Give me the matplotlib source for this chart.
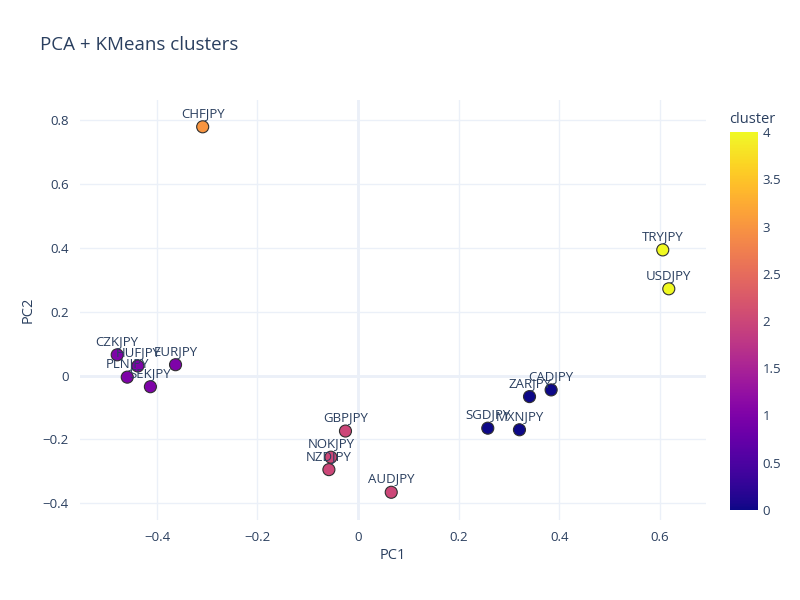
import matplotlib
matplotlib.use("Agg")
import matplotlib.pyplot as plt
from matplotlib.ticker import FuncFormatter

pairs = ["CHFJPY", "TRYJPY", "USDJPY", "CZKJPY", "HUFJPY", "EURJPY", "PLNJPY", "SEKJPY",
         "GBPJPY", "NOKJPY", "NZDJPY", "AUDJPY", "SGDJPY", "MXNJPY", "ZARJPY", "CADJPY"]
pc1 = [-0.309, 0.606, 0.618, -0.479, -0.438, -0.363, -0.459, -0.413,
       -0.025, -0.054, -0.058, 0.066, 0.258, 0.321, 0.341, 0.384]
pc2 = [0.780, 0.394, 0.272, 0.065, 0.030, 0.034, -0.005, -0.035,
       -0.174, -0.256, -0.295, -0.366, -0.165, -0.170, -0.066, -0.045]
cluster = [3, 4, 4, 1, 1, 1, 1, 1, 2, 2, 2, 2, 0, 0, 0, 0]

txt = "#2a3f5f"
grid = "#ebf0f8"
plt.rcParams["font.family"] = ["Open Sans", "DejaVu Sans"]

fig = plt.figure(figsize=(8, 6), dpi=100)
ax = fig.add_axes([0.1, 0.1333, 0.7825, 0.7])

sc = ax.scatter(pc1, pc2, c=cluster, cmap="plasma", vmin=0, vmax=4, s=75,
                edgecolors="#2f2f2f", linewidths=0.8, zorder=3)
for name, x, y in zip(pairs, pc1, pc2):
    ax.annotate(name, (x, y), xytext=(0, 5), textcoords="offset points",
                ha="center", va="bottom", fontsize=9.5, color=txt, zorder=4)

ax.set_xlim(-0.553, 0.692)
ax.set_ylim(-0.453, 0.864)
ax.set_xticks([-0.4, -0.2, 0, 0.2, 0.4, 0.6])
ax.set_yticks([-0.4, -0.2, 0, 0.2, 0.4, 0.6, 0.8])
fmt = FuncFormatter(lambda v, p: ("0" if abs(v) < 1e-9 else f"{v:g}").replace("-", "\u2212"))
ax.xaxis.set_major_formatter(fmt)
ax.yaxis.set_major_formatter(fmt)
ax.grid(True, color=grid, linewidth=1, zorder=0)
ax.axhline(0, color=grid, linewidth=2, zorder=1)
ax.axvline(0, color=grid, linewidth=2, zorder=1)
for s in ax.spines.values():
    s.set_visible(False)
ax.tick_params(length=0, labelsize=9.5, labelcolor=txt, pad=8)
ax.set_xlabel("PC1", fontsize=10.5, color=txt, labelpad=3)
ax.set_ylabel("PC2", fontsize=10.5, color=txt, labelpad=5)

fig.text(0.05, 0.925, "PCA + KMeans clusters", fontsize=13.5, color=txt, ha="left", va="center")

cax = fig.add_axes([0.912, 0.15, 0.036, 0.63])
cb = fig.colorbar(sc, cax=cax, ticks=[0, 0.5, 1, 1.5, 2, 2.5, 3, 3.5, 4])
cb.outline.set_visible(False)
cb.ax.tick_params(length=0, labelsize=9.5, labelcolor=txt, pad=3)
cb.ax.set_yticklabels(["0", "0.5", "1", "1.5", "2", "2.5", "3", "3.5", "4"])
fig.text(0.911, 0.801, "cluster", fontsize=10.5, color=txt, ha="left", va="center")

fig.savefig("out.png", dpi=100)
